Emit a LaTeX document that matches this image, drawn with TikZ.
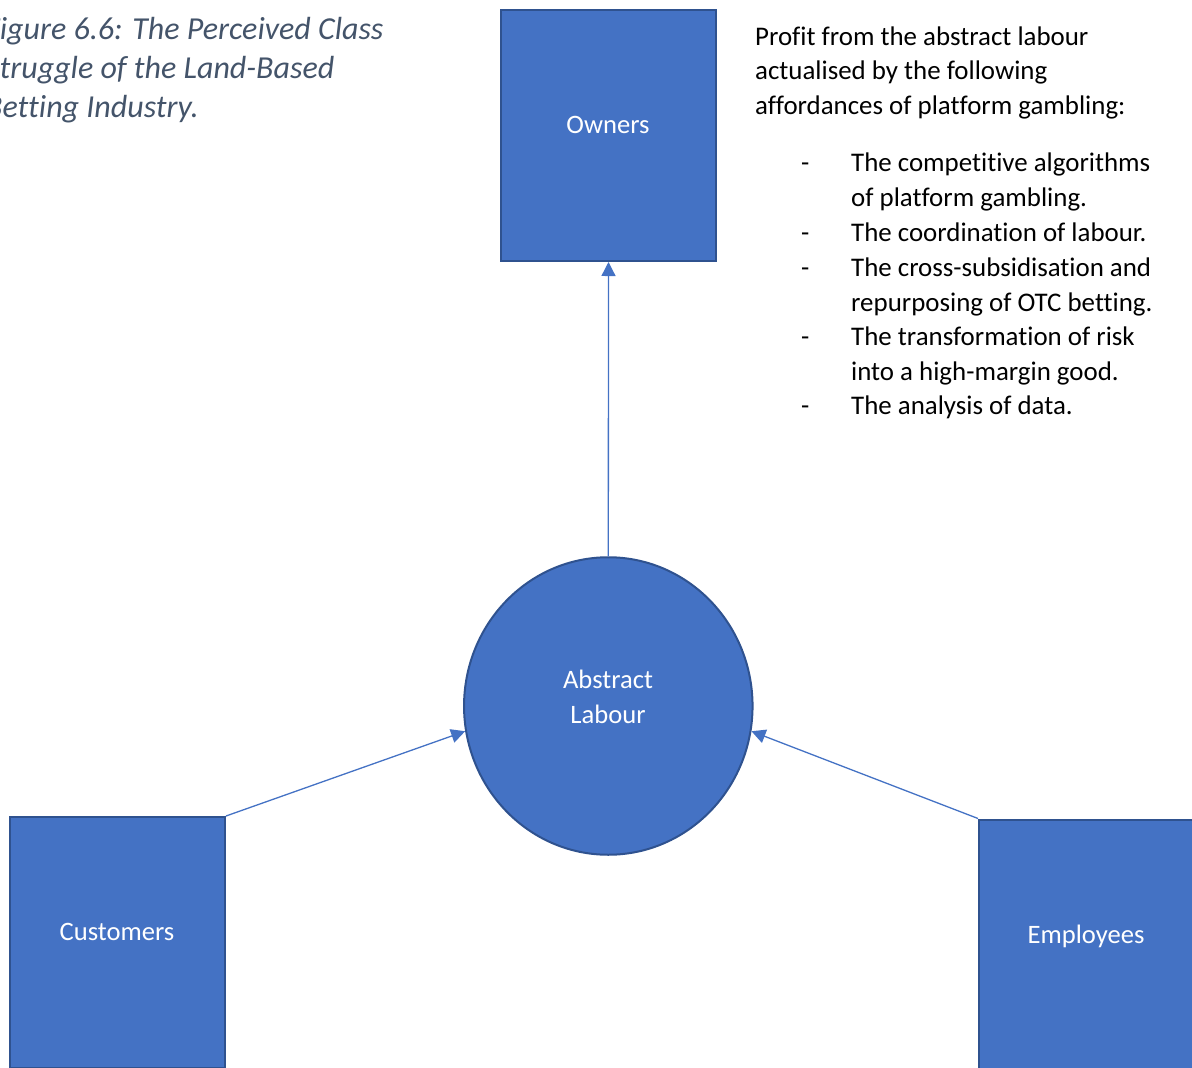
\documentclass[tikz,border=0pt]{standalone}
\usepackage{fontspec}
\setmainfont{Carlito}[Ligatures={NoCommon}]
\usetikzlibrary{arrows.meta,shapes.geometric}
\definecolor{boxblue}{HTML}{4472C4}
\definecolor{boxedge}{HTML}{2F528F}
\definecolor{titlecol}{HTML}{44546A}
\begin{document}
\begin{tikzpicture}[x=1pt,y=-1pt,
  box/.style={draw=boxedge, line width=2pt, fill=boxblue, minimum width=215pt, minimum height=251pt, inner sep=0pt},
  circ/.style={ellipse, draw=boxedge, line width=2pt, fill=boxblue, minimum width=288.5pt, minimum height=297.5pt, inner sep=0pt},
  lbl/.style={text=white, font=\fontsize{26.6}{35}\selectfont, inner sep=0pt, anchor=base, align=center},
  body/.style={text=black, font=\fontsize{26.9}{34.8}\selectfont, inner sep=0pt, anchor=base west, align=left},
  conn/.style={draw=boxblue, line width=1.3pt, -{Triangle[length=14pt,width=14pt]}}
]
\useasboundingbox (0,0) rectangle (1192,1068);
\clip (0,0) rectangle (1192,1068);
\node[titlecol, font=\fontsize{32}{39}\selectfont\itshape, inner sep=0pt, anchor=base west, align=left] (title) at (-15,117)
  {Figure 6.6: The Perceived Class\\Struggle of the Land-Based\\Betting Industry.};
\node[box] (owners) at (608.5,135.5) {};
\node[box] (customers) at (117.5,942.5) {};
\node[box] (employees) at (1086.5,945) {};
\node[circ] (abs) at (608.3,706) {};
\node[lbl] (ownerslbl) at (608,133.3) {Owners};
\node[lbl] (customerslbl) at (117,940) {Customers};
\node[lbl] (employeeslbl) at (1086,943.3) {Employees};
\node[lbl] (abslbl) at (608,723.7) {Abstract\\Labour};
\draw[conn] (abs.north) -- (owners.south);
\draw[conn] (customers.north east) -- (abs.190.5);
\draw[conn] (employees.north west) -- (abs.-10.5);
\node[body] (intro) at (755,114.7) {Profit from the abstract labour\\actualised by the following\\affordances of platform gambling:};
\node[body] (d1) at (801,171.3) {-};
\node[body] (i1) at (851,206.3) {The competitive algorithms\\of platform gambling.};
\node[body] (d2) at (801,241.7) {-};
\node[body] (i2) at (851,241.7) {The coordination of labour.};
\node[body] (d3) at (801,276.3) {-};
\node[body] (i3) at (851,311) {The cross-subsidisation and\\repurposing of OTC betting.};
\node[body] (d4) at (801,345.3) {-};
\node[body] (i4) at (851,380.3) {The transformation of risk\\into a high-margin good.};
\node[body] (d5) at (801,414.7) {-};
\node[body] (i5) at (851,414.7) {The analysis of data.};
\end{tikzpicture}
\end{document}
